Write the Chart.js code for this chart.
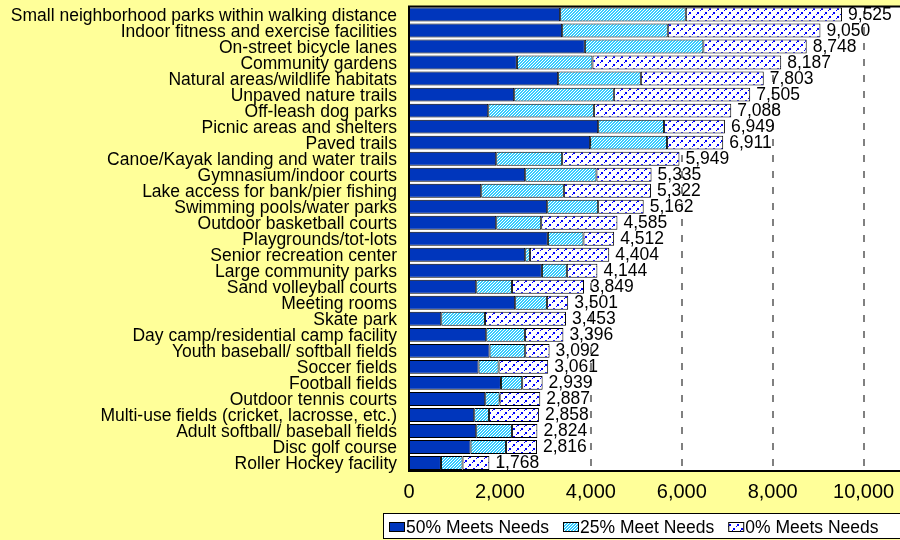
<!DOCTYPE html>
<html>
<head>
<meta charset="utf-8">
<script src="https://cdn.jsdelivr.net/npm/chart.js@4.4.1/dist/chart.umd.min.js"></script>
<style>
  html, body { margin: 0; padding: 0; background: #FFFF99; }
  #wrap { width: 900px; height: 540px; }
</style>
</head>
<body>
<div id="wrap"><canvas id="chart" width="900" height="540"></canvas></div>
<script>
// facilities, biggest total first
const categories = [
  "Small neighborhood parks within walking distance",
  "Indoor fitness and exercise facilities",
  "On-street bicycle lanes",
  "Community gardens",
  "Natural areas/wildlife habitats",
  "Unpaved nature trails",
  "Off-leash dog parks",
  "Picnic areas and shelters",
  "Paved trails",
  "Canoe/Kayak landing and water trails",
  "Gymnasium/indoor courts",
  "Lake access for bank/pier fishing",
  "Swimming pools/water parks",
  "Outdoor basketball courts",
  "Playgrounds/tot-lots",
  "Senior recreation center",
  "Large community parks",
  "Sand volleyball courts",
  "Meeting rooms",
  "Skate park",
  "Day camp/residential camp facility",
  "Youth baseball/ softball fields",
  "Soccer fields",
  "Football fields",
  "Outdoor tennis courts",
  "Multi-use fields (cricket, lacrosse, etc.)",
  "Adult softball/ baseball fields",
  "Disc golf course",
  "Roller Hockey facility"
];

// (segments sum to the printed totals)
const meets50 = [3325, 3369, 3868, 2373, 3281, 2314, 1743, 4161, 3985, 1919,
                 2556, 1589, 3040, 1919, 3055, 2556, 2923, 1479, 2336, 710,
                 1699, 1772, 1530, 2022, 1677, 1435, 1479, 1354, 703];
const meets25 = [2763, 2323, 2607, 1663, 1818, 2191, 2323, 1450, 1692, 1450,
                 1568, 1817, 1121, 989, 783, 103, 549, 785, 697, 960,
                 850, 784, 440, 468, 315, 323, 785, 778, 475];
const meets0 = [3437, 3358, 2273, 4151, 2704, 3000, 3022, 1338, 1234, 2580,
                1211, 1916, 1001, 1677, 674, 1745, 672, 1585, 468, 1783,
                847, 536, 1091, 449, 895, 1100, 560, 684, 590];

const seriesNames = ["50% Meets Needs", "25% Meet Needs", "0% Meets Needs"];
const xTicks = [0, 2000, 4000, 6000, 8000, 10000];

const FONT = '"Liberation Sans", Arial, sans-serif';

// fill patterns
function makeHatch() {
  const c = document.createElement("canvas");
  c.width = 3; c.height = 3;
  const g = c.getContext("2d");
  g.fillStyle = "#33CCFF";
  g.fillRect(0, 0, 3, 3);
  g.fillStyle = "#FFFFFF";
  for (let i = 0; i < 3; i++) g.fillRect(2 - i, i, 1, 1);
  return g.createPattern(c, "repeat");
}

function makeDashes() {
  const c = document.createElement("canvas");
  c.width = 8; c.height = 8;
  const g = c.getContext("2d");
  g.fillStyle = "#FFFFFF";
  g.fillRect(0, 0, 8, 8);
  g.fillStyle = "#0000FF";
  // little stair marks, two per tile
  g.fillRect(5, 0, 2, 2); g.fillRect(4, 2, 1, 1);
  g.fillRect(1, 4, 2, 2); g.fillRect(0, 6, 1, 1);
  return g.createPattern(c, "repeat");
}

const fills = ["#0036BC", makeHatch(), makeDashes()];

// yellow page, white plot area
const background = {
  id: "background",
  beforeDraw(chart) {
    const { ctx, chartArea } = chart;
    ctx.save();
    ctx.fillStyle = "#FFFF99";
    ctx.fillRect(0, 0, chart.width, chart.height);
    ctx.fillStyle = "#FFFFFF";
    ctx.fillRect(chartArea.left, chartArea.top, chart.width - chartArea.left, chartArea.bottom - chartArea.top);
    ctx.restore();
  }
};

// dashed vertical gridlines behind the bars
const dashedGrid = {
  id: "dashedGrid",
  beforeDatasetsDraw(chart) {
    const { ctx, chartArea, scales } = chart;
    ctx.save();
    ctx.strokeStyle = "#808080";
    ctx.lineWidth = 2;
    ctx.setLineDash([7, 9]);
    ctx.lineDashOffset = -4.5;
    xTicks.slice(1).forEach((v) => {
      const px = Math.round(scales.x.getPixelForValue(v));
      ctx.beginPath();
      ctx.moveTo(px, chartArea.top);
      ctx.lineTo(px, chartArea.bottom);
      ctx.stroke();
    });
    ctx.restore();
  }
};

// totals at the end of each bar
const totalLabels = {
  id: "totalLabels",
  afterDatasetsDraw(chart) {
    const { ctx, scales } = chart;
    ctx.save();
    ctx.font = "17.5px " + FONT;
    ctx.fillStyle = "#000";
    ctx.textBaseline = "middle";
    ctx.textAlign = "left";
    categories.forEach((c, i) => {
      const total = meets50[i] + meets25[i] + meets0[i];
      const px = scales.x.getPixelForValue(total) + 6;
      const py = scales.y.getPixelForValue(i);
      ctx.fillText(total.toLocaleString("en-US"), px, py + 0.5);
    });
    ctx.restore();
  }
};

// top frame line and boxed legend
const frameAndLegend = {
  id: "frameAndLegend",
  afterDraw(chart) {
    const { ctx, chartArea } = chart;
    ctx.save();
    ctx.strokeStyle = "#000";
    ctx.lineWidth = 2;
    ctx.beginPath();
    ctx.moveTo(chartArea.left - 1, chartArea.top);
    ctx.lineTo(chart.width, chartArea.top);
    ctx.stroke();

    ctx.lineWidth = 1;
    ctx.fillStyle = "#FFFFFF";
    ctx.fillRect(383, 513, 540, 26);
    ctx.strokeRect(383.5, 513.5, 540, 25);

    ctx.font = "17.5px " + FONT;
    ctx.textBaseline = "middle";
    let lx = 389;
    chart.data.datasets.forEach((ds) => {
      ctx.fillStyle = ds.backgroundColor;
      ctx.fillRect(lx, 522, 15, 9);
      ctx.strokeRect(lx + 0.5, 522.5, 15, 9);
      ctx.fillStyle = "#000";
      ctx.fillText(ds.label, lx + 17, 528);
      lx += 17 + ctx.measureText(ds.label).width + 14;
    });
    ctx.restore();
  }
};

const ctx = document.getElementById("chart").getContext("2d");
new Chart(ctx, {
  type: "bar",
  data: {
    labels: categories,
    datasets: [meets50, meets25, meets0].map((vals, k) => ({
      label: seriesNames[k],
      data: vals,
      backgroundColor: fills[k],
      borderColor: "#000",
      borderWidth: 1,
      borderSkipped: false,
      barPercentage: 0.87,
      categoryPercentage: 1.0
    }))
  },
  options: {
    indexAxis: "y",
    responsive: false,
    animation: false,
    devicePixelRatio: 1,
    layout: { padding: { top: 6.5, right: 0, bottom: 36, left: 0 } },
    plugins: {
      legend: { display: false },
      tooltip: { enabled: false }
    },
    scales: {
      x: {
        stacked: true,
        min: 0,
        max: 10800,
        afterBuildTicks: (scale) => {
          scale.ticks = xTicks.map(v => ({ value: v }));
        },
        afterFit: (scale) => {
          scale.height = 33;
          scale.paddingLeft = 0;
          scale.paddingRight = 0;
        },
        ticks: {
          color: "#000",
          padding: 9,
          font: { family: FONT, size: 20 },
          callback: (v) => v.toLocaleString("en-US")
        },
        grid: { display: false, drawTicks: false },
        border: { color: "#000", width: 2 }
      },
      y: {
        stacked: true,
        afterFit: (scale) => {
          scale.width = 409;
          scale.paddingTop = 0;
          scale.paddingBottom = 0;
        },
        ticks: {
          color: "#000",
          padding: 12,
          autoSkip: false,
          labelOffset: 1.5,
          font: { family: FONT, size: 17.5 }
        },
        grid: { display: false, drawTicks: false },
        border: { color: "#000", width: 2 }
      }
    }
  },
  plugins: [background, dashedGrid, totalLabels, frameAndLegend]
});
</script>
</body>
</html>
